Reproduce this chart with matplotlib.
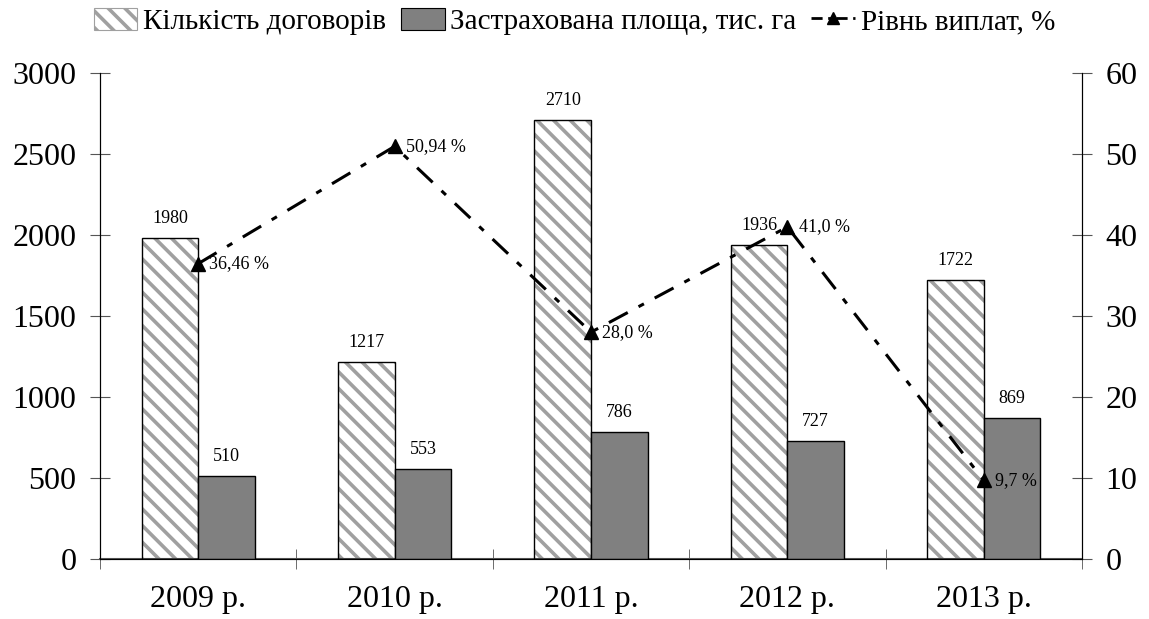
import numpy as np
import matplotlib
matplotlib.use("Agg")
import matplotlib.pyplot as plt
from matplotlib.patches import Patch
from matplotlib.lines import Line2D

# data
years = ["2009 р.", "2010 р.", "2011 р.", "2012 р.", "2013 р."]
contracts = [1980, 1217, 2710, 1936, 1722]
area = [510, 553, 786, 727, 869]
payout = [36.46, 50.94, 28.0, 41.0, 9.7]
payout_labels = ["36,46 %", "50,94 %", "28,0 %", "41,0 %", "9,7 %"]

plt.rcParams['font.family'] = ['Liberation Serif', 'DejaVu Serif']
plt.rcParams['hatch.linewidth'] = 2.6
plt.rcParams['hatch.color'] = '#a0a0a0'

fig = plt.figure(figsize=(11.49, 6.19), dpi=100)
ax = fig.add_axes([100/1149, 1 - 559/619, 982/1149, (559 - 73)/619])
ax2 = ax.twinx()

x = np.arange(len(years))
w = 0.288

# hatched bars: stripes first, then black outline
ax.bar(x - w/2, contracts, w, color='white', edgecolor='#a0a0a0', hatch='\\\\', linewidth=0, zorder=2)
ax.bar(x - w/2, contracts, w, color='none', edgecolor='black', linewidth=1.0, zorder=3)
ax.bar(x + w/2, area, w, color='#808080', edgecolor='black', linewidth=1.0, zorder=3)

for xi, v in zip(x, contracts):
    ax.annotate(str(v), (xi - w/2, v), xytext=(0, 8), textcoords='offset points',
                ha='center', va='bottom', fontsize=13)
for xi, v in zip(x, area):
    ax.annotate(str(v), (xi + w/2, v), xytext=(0, 8), textcoords='offset points',
                ha='center', va='bottom', fontsize=13)

ax2.plot(x, payout, color='black', linestyle=(0, (7, 4, 2, 4)), linewidth=2.2,
         marker='^', markersize=10, zorder=5)
for xi, v, lab in zip(x, payout, payout_labels):
    ax2.annotate(lab, (xi, v), xytext=(8, 0), textcoords='offset points',
                 ha='left', va='center', fontsize=13)

ax.set_xlim(-0.5, len(years) - 0.5)
ax.set_ylim(0, 3000)
ax2.set_ylim(0, 60)
ax.set_yticks(np.arange(0, 3001, 500))
ax2.set_yticks(np.arange(0, 61, 10))

ax.set_xticks(x)
ax.set_xticklabels(years)
ax.set_xticks(np.arange(-0.5, len(years), 1.0), minor=True)
ax.tick_params(axis='x', which='major', length=0, pad=19, labelsize=23)
ax.tick_params(axis='x', which='minor', direction='inout', length=14, color='#555555')
ax.tick_params(axis='y', direction='inout', length=14, color='#555555', pad=10, labelsize=23)
ax2.tick_params(axis='y', direction='inout', length=14, color='#555555', pad=10, labelsize=23)

for a in (ax, ax2):
    a.spines['top'].set_visible(False)
ax.spines['bottom'].set_color('#555555')
ax.spines['bottom'].set_linewidth(1.5)

handles = [
    Patch(facecolor='white', edgecolor='#a0a0a0', hatch='\\\\', linewidth=0.8),
    Patch(facecolor='#808080', edgecolor='black', linewidth=0.8),
    Line2D([], [], color='black', linestyle=(0, (4, 2, 1, 2)), linewidth=2, marker='^', markersize=9),
]
fig.legend(handles, ["Кількість договорів", "Застрахована площа, тис. га", "Рівнь виплат, %"],
           loc='upper center', bbox_to_anchor=(0.5, 1.03), ncol=3, frameon=False,
           fontsize=21, handlelength=1.5, handleheight=0.8, handletextpad=0.2, columnspacing=0.5)

fig.savefig("out.png", dpi=100)
